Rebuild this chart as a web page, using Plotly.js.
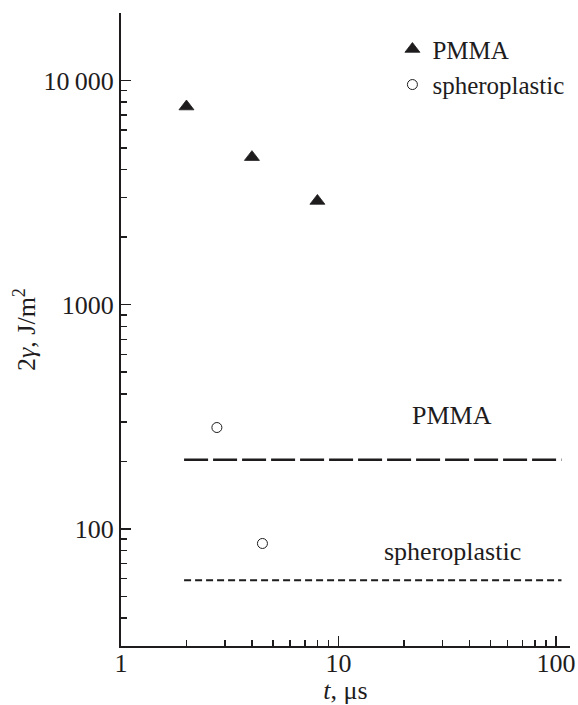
<!DOCTYPE html>
<html>
<head>
<meta charset="utf-8">
<script src="https://cdn.plot.ly/plotly-3.0.1.min.js"></script>
<style>
html,body{margin:0;padding:0;background:#fff;}
#chart{width:578px;height:705px;}
</style>
</head>
<body>
<div id="chart"></div>
<script>
// Data
const pmmaT = [2, 4, 8];
const pmmaGamma = [7650, 4550, 2900];
const spheroT = [2.76, 4.47];
const spheroGamma = [283, 86];
const levelT = [1.95, 106];
const pmmaLevel = [203, 203];
const spheroLevel = [59, 59];

const xTickVals = [1, 10, 100];
const xTickText = ["1", "10", "100"];
const xMinorVals = [2,3,4,5,6,7,8,9,20,30,40,50,60,70,80,90];
const yTickVals = [100, 1000, 10000];
const yTickText = ["100", "1000", "10\u2009000"];
const yMinorVals = [30,40,50,60,70,80,90,200,300,400,500,600,700,800,900,2000,3000,4000,5000,6000,7000,8000,9000,20000];

const ink = "#1e1c1d";
const serif = "'Liberation Serif', 'Times New Roman', serif";

const traces = [
  {x: pmmaT, y: pmmaGamma, type: "scatter", mode: "markers", name: "PMMA",
   marker: {symbol: "triangle-up", size: 13, color: ink, line: {width: 0.8, color: ink}}},
  {x: spheroT, y: spheroGamma, type: "scatter", mode: "markers", name: "spheroplastic",
   marker: {symbol: "circle-open", size: 10, color: ink, line: {width: 1, color: ink}}},
  {x: levelT, y: pmmaLevel, type: "scatter", mode: "lines", showlegend: false,
   line: {color: ink, width: 2.5, dash: "24px,5px"}},
  {x: levelT, y: spheroLevel, type: "scatter", mode: "lines", showlegend: false,
   line: {color: ink, width: 2, dash: "7px,4px"}}
];

const layout = {
  width: 578, height: 705,
  margin: {l: 121, r: 8, t: 13, b: 59, pad: 0},
  paper_bgcolor: "#fff", plot_bgcolor: "#fff",
  font: {family: serif, size: 26, color: ink},
  showlegend: true,
  legend: {x: 0.6045, y: 0.979, xanchor: "left", yanchor: "top",
           bgcolor: "rgba(0,0,0,0)", borderwidth: 0,
           font: {family: serif, size: 25, color: ink}},
  xaxis: {
    type: "log", range: [0, Math.log10(116)],
    showline: true, linewidth: 2, linecolor: ink, mirror: false,
    showgrid: false, zeroline: false,
    ticks: "inside", ticklen: 10, tickwidth: 1.5, tickcolor: ink,
    tickmode: "array", tickvals: xTickVals, ticktext: xTickText,
    ticklabelstandoff: -7,
    tickfont: {family: serif, size: 26, color: ink},
    minor: {tickmode: "array", tickvals: xMinorVals, ticks: "inside", ticklen: 6, tickwidth: 1.5, tickcolor: ink, showgrid: false},
    title: {text: "<i>t</i>, μs", font: {family: serif, size: 26, color: ink}, standoff: 4}
  },
  yaxis: {
    type: "log", range: [Math.log10(30), Math.log10(20000)],
    showline: true, linewidth: 2, linecolor: ink, mirror: false,
    showgrid: false, zeroline: false,
    ticks: "inside", ticklen: 10, tickwidth: 1.5, tickcolor: ink,
    tickmode: "array", tickvals: yTickVals, ticktext: yTickText,
    tickfont: {family: serif, size: 26, color: ink},
    minor: {tickmode: "array", tickvals: yMinorVals, ticks: "inside", ticklen: 6, tickwidth: 1.5, tickcolor: ink, showgrid: false},
    title: {text: "2<i>γ</i>, J/m<sup>2</sup>", font: {family: serif, size: 26, color: ink}, standoff: 0}
  },
  annotations: [
    {x: Math.log10(33.4), y: Math.log10(321), xref: "x", yref: "y", text: "PMMA", showarrow: false,
     font: {family: serif, size: 26, color: ink}},
    {x: Math.log10(33.4), y: Math.log10(79), xref: "x", yref: "y", text: "spheroplastic", showarrow: false,
     font: {family: serif, size: 26, color: ink}}
  ]
};

Plotly.newPlot("chart", traces, layout, {displayModeBar: false, staticPlot: true});
</script>
</body>
</html>
